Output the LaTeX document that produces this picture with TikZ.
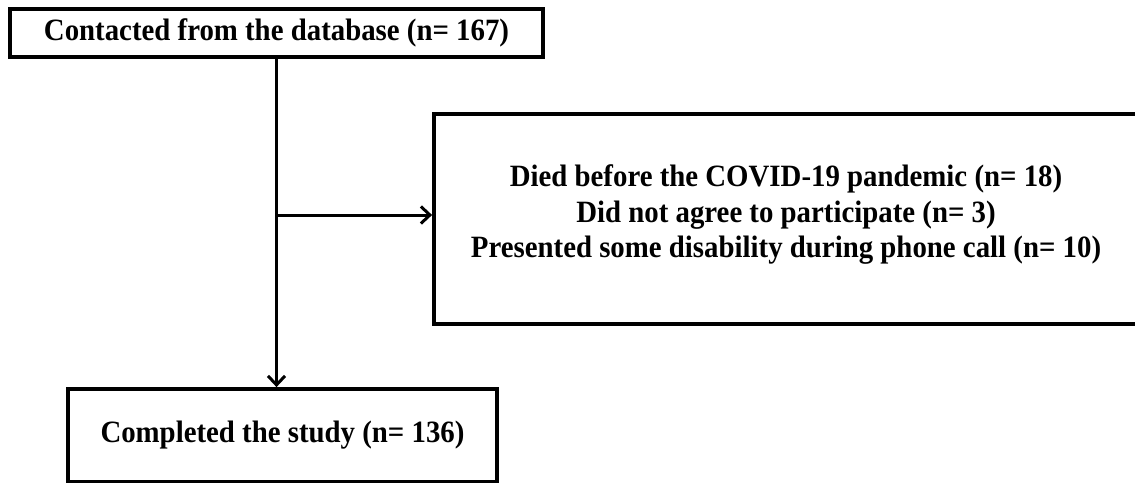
\documentclass[tikz,border=0pt]{standalone}
\usepackage{fontspec}
\setmainfont{Liberation Serif}[FakeStretch=0.93]
\usetikzlibrary{positioning}
\usetikzlibrary{arrows.meta}

\begin{document}
\begin{tikzpicture}[x=1pt,y=-1pt,
  box/.style={draw,line width=3.8pt,inner sep=0pt},
  txt/.style={font=\fontsize{31}{35.5}\selectfont\bfseries,align=center},
  flow/.style={line width=3pt,-{Straight Barb[length=9pt,width=17pt]}}]
\useasboundingbox (0,0) rectangle (1135,482);
% boxes
\node[box,txt,minimum width=533pt,minimum height=48pt] (cont) at (276.5,33) {Contacted from the database (n= 167)};
\node[box,minimum width=800pt,minimum height=210pt] (excl) at (834,219) {};
\node[txt] (excltxt) at (786,215) {Died before the COVID-19 pandemic (n= 18)\\
Did not agree to participate (n= 3)\\
Presented some disability during phone call (n= 10)};
\node[box,txt,minimum width=429pt,minimum height=93pt] (done) at (282.5,435.5) {Completed the study (n= 136)};
% connectors
\coordinate (split) at (cont.south |- excltxt);
\draw[flow] (cont.south) -- (cont.south |- done.north);
\draw[flow] (split) -- (excl.west |- excltxt);
\end{tikzpicture}
\end{document}
